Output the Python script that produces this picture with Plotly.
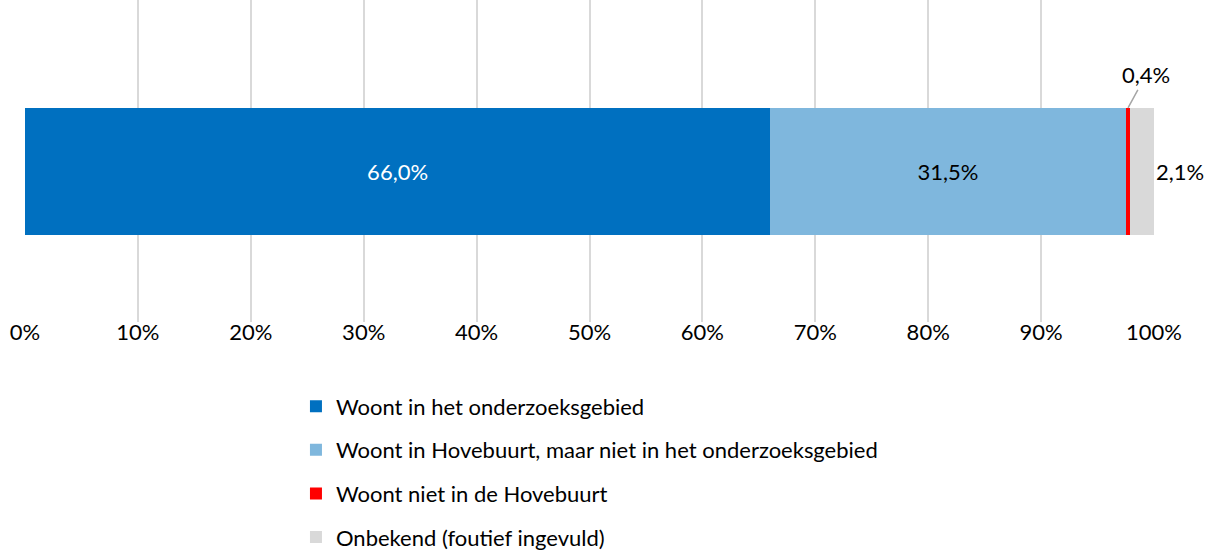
import plotly.graph_objects as go

categories = ["Woont in het onderzoeksgebied",
              "Woont in Hovebuurt, maar niet in het onderzoeksgebied",
              "Woont niet in de Hovebuurt",
              "Onbekend (foutief ingevuld)"]
values = [66.0, 31.5, 0.4, 2.1]
colors = ["#0070C0", "#7FB7DD", "#FF0000", "#D9D9D9"]
label_colors = ["white", "black", "black", "black"]
tick_vals = [0, 10, 20, 30, 40, 50, 60, 70, 80, 90, 100]
tick_text = ["0%", "10%", "20%", "30%", "40%", "50%", "60%", "70%", "80%", "90%", "100%"]

FONT = "Lato"
FS = 22

fig = go.Figure()
for i, (name, v, c) in enumerate(zip(categories, values, colors)):
    inside = i < 2
    fig.add_trace(go.Bar(
        x=[v], y=[0], orientation="h", name=name,
        marker=dict(color=c, line=dict(width=0)),
        width=1,
        text=[f"{v:.1f}%".replace(".", ",")] if inside else None,
        textposition="inside" if inside else "none",
        insidetextanchor="middle",
        textfont=dict(color=label_colors[i], family=FONT, size=FS),
        legendgroup=str(i),
        hoverinfo="skip",
    ))

cum = [sum(values[:i]) for i in range(len(values))]
# 0,4% label with leader line
fig.add_annotation(x=cum[2] + values[2] / 2, y=0.5, xref="x", yref="y",
                   text=f"{values[2]:.1f}%".replace(".", ","),
                   showarrow=True, arrowhead=0, arrowwidth=1.5, arrowcolor="#A6A6A6",
                   ax=18, ay=-33, font=dict(family=FONT, size=FS, color="black"))
# 2,1% label outside right
fig.add_annotation(x=cum[3] + values[3], y=0, xref="x", yref="y",
                   text=f"{values[3]:.1f}%".replace(".", ","),
                   showarrow=False, xanchor="left", xshift=0,
                   font=dict(family=FONT, size=FS, color="black"))

fig.update_layout(
    width=1205, height=559,
    barmode="stack",
    plot_bgcolor="white", paper_bgcolor="white",
    margin=dict(l=25, r=51, t=0, b=237, autoexpand=False),
    font=dict(family=FONT, size=FS, color="black"),
    separators=",.",
    xaxis=dict(range=[0, 100], tickvals=tick_vals, ticktext=tick_text,
               showgrid=True, gridcolor="#D9D9D9", gridwidth=1.5,
               zeroline=False, showline=False, ticks="", fixedrange=True,
               automargin=False, ticklabelstandoff=-5),
    yaxis=dict(range=[-1.185, 1.35], showticklabels=False, showgrid=False,
               zeroline=False, fixedrange=True, automargin=False),
    showlegend=True,
    legend=dict(orientation="v", x=0.24, xanchor="left", y=-0.197, yanchor="top",
                traceorder="grouped", tracegroupgap=12,
                font=dict(family=FONT, size=FS, color="black"), itemwidth=30),
)

fig.write_html("out.html", config={"displayModeBar": False})
with open("out.html", "r", encoding="utf-8") as f:
    html = f.read()
html = html.replace("<head>", "<head><style>html,body{margin:0;padding:0;overflow:hidden;}</style>", 1)
with open("out.html", "w", encoding="utf-8") as f:
    f.write(html)
